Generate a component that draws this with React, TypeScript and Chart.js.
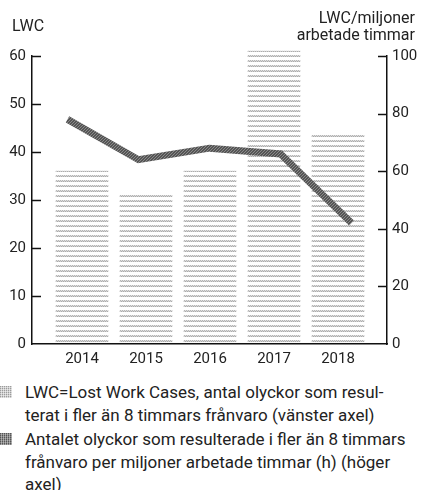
import React, { useEffect, useRef } from "react";
import { Chart, registerables } from "chart.js";

Chart.register(...registerables);

const years = ["2014", "2015", "2016", "2017", "2018"];
const lwcCases = [36, 31, 36, 61, 44];
const lwcPerMillionHours = [78, 64, 68, 66, 42];
const leftTicks = [0, 10, 20, 30, 40, 50, 60];
const rightTicks = [0, 20, 40, 60, 80, 100];

const FONT = "Roboto, 'DejaVu Sans', sans-serif";

function makeBarPattern(): CanvasPattern | string {
  const c = document.createElement("canvas");
  c.width = 4;
  c.height = 5;
  const g = c.getContext("2d");
  if (!g) return "#aaa";
  const row0 = ["#b6b6b6", "#e2e2e2", "#b6b6b6", "#e2e2e2"];
  const row1 = ["#d2d2d2", "#ababab", "#d2d2d2", "#ababab"];
  row0.forEach((col, i) => { g.fillStyle = col; g.fillRect(i, 0, 1, 1); });
  row1.forEach((col, i) => { g.fillStyle = col; g.fillRect(i, 1, 1, 1); });
  return g.createPattern(c, "repeat") || "#aaa";
}

function makeLinePattern(): CanvasPattern | string {
  const c = document.createElement("canvas");
  c.width = 3;
  c.height = 3;
  const g = c.getContext("2d");
  if (!g) return "#666";
  g.fillStyle = "#555555";
  g.fillRect(0, 0, 3, 3);
  g.fillStyle = "#8a8a8a";
  g.fillRect(0, 0, 1, 1);
  g.fillRect(2, 1, 1, 1);
  g.fillRect(1, 2, 1, 1);
  return g.createPattern(c, "repeat") || "#666";
}

const tickMarks = {
  id: "tickMarks",
  afterDatasetsDraw(chart: any) {
    const ctx = chart.ctx;
    const yl = chart.scales.y;
    const yr = chart.scales.y1;
    const area = chart.chartArea;
    ctx.save();
    ctx.strokeStyle = "#111";
    ctx.lineWidth = 1.5;
    leftTicks.forEach((v) => {
      if (v === 0) return;
      const py = Math.round(yl.getPixelForValue(v)) + 0.5;
      ctx.beginPath();
      ctx.moveTo(area.left, py);
      ctx.lineTo(area.left + 9, py);
      ctx.stroke();
    });
    rightTicks.forEach((v) => {
      if (v === 0) return;
      const py = Math.round(yr.getPixelForValue(v)) + 0.5;
      ctx.beginPath();
      ctx.moveTo(area.right - 9, py);
      ctx.lineTo(area.right, py);
      ctx.stroke();
    });
    ctx.restore();
  },
};

function ChartView() {
  const ref = useRef<HTMLCanvasElement | null>(null);
  useEffect(() => {
    if (!ref.current) return;
    const barPattern = makeBarPattern();
    const linePattern = makeLinePattern();
    const chart = new Chart(ref.current, {
      type: "bar",
      data: {
        labels: years,
        datasets: [
          {
            type: "line",
            label: "LWC per miljon",
            data: lwcPerMillionHours,
            xAxisID: "xl",
            yAxisID: "y1",
            borderColor: linePattern as any,
            backgroundColor: linePattern as any,
            borderWidth: 7,
            pointRadius: 0,
            tension: 0,
            borderJoinStyle: "miter",
            borderCapStyle: "butt",
            order: 0,
            clip: false as any,
          },
          {
            type: "bar",
            label: "LWC",
            data: lwcCases.map((v, i) => ({ x: i, y: v })) as any,
            xAxisID: "x",
            yAxisID: "y",
            backgroundColor: barPattern as any,
            borderWidth: 0,
            barThickness: 52,
            grouped: false,
            order: 1,
            clip: false as any,
          },
        ],
      },
      options: {
        animation: false,
        responsive: false,
        maintainAspectRatio: false,
        layout: { padding: { top: 56, left: 0, right: 0, bottom: 0 } },
        plugins: {
          legend: { display: false },
          tooltip: { enabled: false },
          title: { display: false },
        },
        scales: {
          x: {
            type: "linear",
            position: "bottom",
            offset: false,
            min: -0.78125,
            max: 4.765625,
            grid: { display: false, drawTicks: false, offset: false },
            border: { display: true, color: "#111", width: 1.5 },
            afterBuildTicks: (s: any) => {
              s.ticks = years.map((_, i) => ({ value: i }));
            },
            afterFit: (s: any) => {
              s.height = 26;
            },
            ticks: {
              color: "#222",
              font: { family: FONT, size: 15 },
              padding: 6,
              maxRotation: 0,
              autoSkip: false,
              callback: (v: any) => years[Math.round(Number(v))] ?? "",
            },
          },
          xl: {
            type: "category",
            labels: years,
            offset: true,
            display: false,
            grid: { display: false },
          },
          y: {
            type: "linear",
            position: "left",
            min: 0,
            max: 60,
            grid: { display: false, drawTicks: false },
            border: { display: true, color: "#111", width: 1.5 },
            afterBuildTicks: (s: any) => {
              s.ticks = leftTicks.map((v) => ({ value: v }));
            },
            afterFit: (s: any) => {
              s.width = 32;
            },
            ticks: {
              color: "#222",
              font: { family: FONT, size: 15 },
              padding: 6,
            },
          },
          y1: {
            type: "linear",
            position: "right",
            min: 0,
            max: 100,
            grid: { display: false, drawTicks: false },
            border: { display: true, color: "#111", width: 1.5 },
            afterBuildTicks: (s: any) => {
              s.ticks = rightTicks.map((v) => ({ value: v }));
            },
            afterFit: (s: any) => {
              s.width = 35;
            },
            ticks: {
              color: "#222",
              font: { family: FONT, size: 15 },
              padding: 5,
            },
          },
        },
      },
      plugins: [tickMarks],
    });
    return () => chart.destroy();
  }, []);
  return <canvas ref={ref} width={422} height={370} style={{ position: "absolute", left: 0, top: 0, width: 422, height: 370 }} />;
}

const textStyle: React.CSSProperties = {
  fontFamily: FONT,
  color: "#222",
};

export default function App() {
  return (
    <div style={{ position: "absolute", left: 0, top: 0, width: 422, height: 490, background: "#fff", overflow: "hidden" }}>
      <ChartView />
      <div style={{ ...textStyle, position: "absolute", left: 12, top: 17, fontSize: 16, lineHeight: "18px" }}>LWC</div>
      <div style={{ ...textStyle, position: "absolute", right: 7, top: 9, fontSize: 16, lineHeight: "17px", textAlign: "right" }}>
        LWC/miljoner
        <br />
        arbetade timmar
      </div>
      <div style={{ ...textStyle, position: "absolute", left: 0, top: 381, width: 422, fontSize: 17, lineHeight: "22.5px" }}>
        <div style={{ position: "relative", paddingLeft: 25 }}>
          <span
            style={{
              position: "absolute",
              left: 0,
              top: 5,
              width: 12,
              height: 12,
              background:
                "repeating-linear-gradient(0deg, rgba(255,255,255,0.5) 0 1px, transparent 1px 2px), repeating-linear-gradient(90deg, #9c9c9c 0 1px, #d4d4d4 1px 2px)",
            }}
          />
          LWC=Lost Work Cases, antal olyckor som resul-
          <br />
          terat i fler än 8 timmars frånvaro (vänster axel)
        </div>
        <div style={{ position: "relative", paddingLeft: 25, marginTop: 2 }}>
          <span
            style={{
              position: "absolute",
              left: 0,
              top: 5,
              width: 12,
              height: 12,
              background:
                "repeating-linear-gradient(0deg, rgba(255,255,255,0.25) 0 1px, transparent 1px 2px), repeating-linear-gradient(90deg, #555 0 1px, #9a9a9a 1px 2px)",
            }}
          />
          Antalet olyckor som resulterade i fler än 8 timmars
          <br />
          frånvaro per miljoner arbetade timmar (h) (höger
          <br />
          axel)
        </div>
      </div>
    </div>
  );
}
